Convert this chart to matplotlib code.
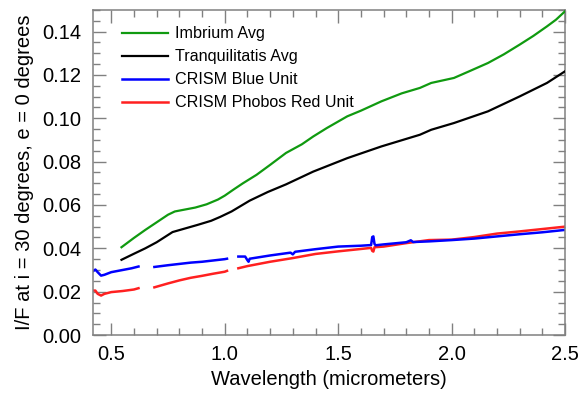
import numpy as np
import matplotlib
matplotlib.use('Agg')
import matplotlib.pyplot as plt
from matplotlib.ticker import MultipleLocator, FormatStrFormatter

plt.rcParams['font.family'] = ['Liberation Sans', 'DejaVu Sans']

# Imbrium average
imb_x = [0.545, 0.6, 0.65, 0.7, 0.75, 0.78, 0.82, 0.87, 0.92, 0.97, 1.0, 1.04, 1.08,
         1.14, 1.2, 1.27, 1.34, 1.39, 1.45, 1.54, 1.6, 1.69, 1.78, 1.86, 1.91, 2.01,
         2.08, 2.16, 2.23, 2.3, 2.36, 2.42, 2.46, 2.5]
imb_y = [0.0405, 0.0448, 0.0485, 0.052, 0.0555, 0.057, 0.0578, 0.0588, 0.0603, 0.0625,
         0.0643, 0.0672, 0.070, 0.0739, 0.0785, 0.0840, 0.0880, 0.0916, 0.0955, 0.1009,
         0.1035, 0.1078, 0.1115, 0.1140, 0.1163, 0.1186, 0.1218, 0.1255, 0.1295, 0.1340,
         0.1380, 0.1424, 0.1455, 0.1494]

# Tranquilitatis average
tra_x = [0.545, 0.6, 0.65, 0.7, 0.77, 0.82, 0.88, 0.94, 0.98, 1.03, 1.11, 1.19, 1.27,
         1.39, 1.54, 1.69, 1.86, 1.91, 2.01, 2.16, 2.3, 2.42, 2.5]
tra_y = [0.0347, 0.0375, 0.040, 0.0428, 0.0475, 0.049, 0.0508, 0.0527, 0.0545, 0.057,
         0.0620, 0.066, 0.0695, 0.0754, 0.0816, 0.087, 0.0924, 0.0947, 0.0978, 0.1032,
         0.1101, 0.1163, 0.1217]

# CRISM blue unit (NaN = gap in the spectrum)
blu_x = [0.42, 0.43, 0.44, 0.455, 0.47, 0.5, 0.53, 0.56, 0.59, 0.62, 0.65, 0.69, 0.75,
         0.8, 0.85, 0.9, 0.95, 1.0, 1.01, 1.035, 1.06, 1.09, 1.1, 1.105, 1.11, 1.2, 1.29,
         1.3, 1.31, 1.4, 1.5, 1.6, 1.645, 1.65, 1.655, 1.66, 1.665, 1.7, 1.8, 1.82, 1.83,
         1.9, 2.0, 2.1, 2.2, 2.3, 2.4, 2.5]
blu_y = [0.0295, 0.0302, 0.029, 0.0274, 0.0278, 0.029, 0.0296, 0.0302, 0.0308, 0.0316,
         np.nan, 0.0314, 0.0322, 0.0328, 0.0334, 0.0338, 0.0344, 0.035, 0.0352, np.nan,
         0.0362, 0.0362, 0.0345, 0.0338, 0.0352, 0.0367, 0.038, 0.0372, 0.0384, 0.0396,
         0.0408, 0.0412, 0.0415, 0.0452, 0.0455, 0.042, 0.0414, 0.0418, 0.0428, 0.0437,
         0.0429, 0.0432, 0.0438, 0.0445, 0.0455, 0.0465, 0.0474, 0.0485]

# CRISM Phobos red unit
red_x = [0.42, 0.43, 0.44, 0.455, 0.47, 0.5, 0.55, 0.6, 0.62, 0.65, 0.69, 0.75, 0.8,
         0.85, 0.9, 0.95, 1.0, 1.01, 1.035, 1.06, 1.1, 1.2, 1.3, 1.4, 1.5, 1.6, 1.645,
         1.65, 1.655, 1.66, 1.7, 1.8, 1.9, 2.0, 2.1, 2.2, 2.3, 2.4, 2.5]
red_y = [0.0205, 0.0205, 0.019, 0.0182, 0.019, 0.0198, 0.0203, 0.021, 0.0216, np.nan,
         0.022, 0.0238, 0.0252, 0.0264, 0.0273, 0.0283, 0.0292, 0.0296, np.nan, 0.0308,
         0.0318, 0.0338, 0.0355, 0.0374, 0.0386, 0.0397, 0.0402, 0.0388, 0.0385, 0.0405,
         0.0408, 0.0424, 0.0438, 0.0440, 0.0452, 0.0468, 0.0478, 0.0489, 0.0500]

GRAY = '#808080'

fig = plt.figure(figsize=(5.82, 3.96), dpi=100)
ax = fig.add_axes([0.160, 0.154, 0.811, 0.821])

l1, = ax.plot(imb_x, imb_y, color='#109a10', lw=1.6, label='Imbrium Avg', zorder=3)
l2, = ax.plot(tra_x, tra_y, color='black', lw=1.6, label='Tranquilitatis Avg', zorder=3)
l4, = ax.plot(red_x, red_y, color='#ff2020', lw=1.8, label='CRISM Phobos Red Unit', zorder=2)
l3, = ax.plot(blu_x, blu_y, color='#0000ff', lw=1.8, label='CRISM Blue Unit', zorder=2.5)

ax.set_xlim(0.42, 2.5)
ax.set_ylim(0, 0.15)
ax.xaxis.set_major_locator(MultipleLocator(0.5))
ax.xaxis.set_minor_locator(MultipleLocator(0.1))
ax.yaxis.set_major_locator(MultipleLocator(0.02))
ax.yaxis.set_minor_locator(MultipleLocator(0.005))
ax.xaxis.set_major_formatter(FormatStrFormatter('%.1f'))
ax.yaxis.set_major_formatter(FormatStrFormatter('%.2f'))

ax.tick_params(which='both', direction='in', top=True, right=True, color=GRAY,
               width=1, labelsize=14.5, labelcolor='black')
ax.tick_params(which='major', length=9)
ax.tick_params(which='minor', length=5)
ax.tick_params(axis='x', pad=7.5)
ax.tick_params(axis='y', pad=8.5)
for s in ax.spines.values():
    s.set_color(GRAY)
    s.set_linewidth(1.1)

ax.set_xlabel('Wavelength (micrometers)', fontsize=14.5, labelpad=4)
ax.set_ylabel('I/F at i = 30 degrees, e = 0 degrees', fontsize=14.5, labelpad=6)

ax.legend(handles=[l1, l2, l3, l4], loc='upper left', bbox_to_anchor=(0.061, 0.950),
          frameon=False, fontsize=11.6, handlelength=2.85, handletextpad=0.43,
          labelspacing=0.5, borderaxespad=0, borderpad=0)

fig.savefig('out.png', dpi=100)
